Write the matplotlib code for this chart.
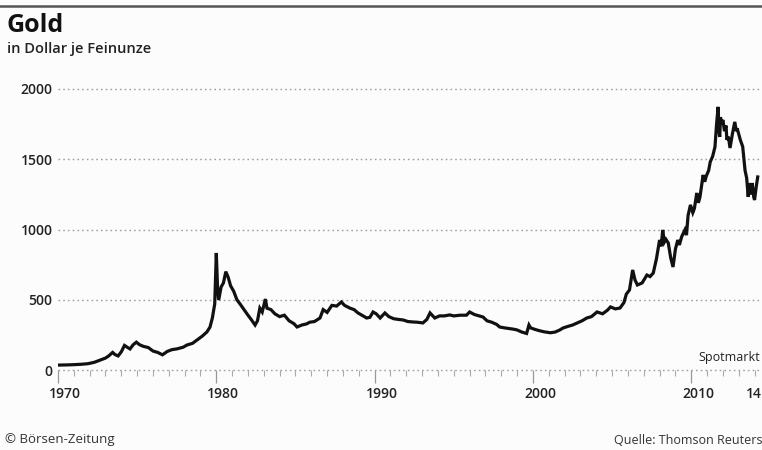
import numpy as np
import matplotlib.pyplot as plt
from matplotlib.lines import Line2D
from matplotlib.transforms import ScaledTranslation

plt.rcParams['font.family'] = ['Open Sans', 'DejaVu Sans']

# gold spot price
years = [1970.0, 1970.5, 1971.0, 1971.5, 1971.9, 1972.3, 1972.65, 1973.0, 1973.2, 1973.45,
         1973.6, 1973.8, 1974.0, 1974.2, 1974.4, 1974.55, 1974.75, 1974.95, 1975.15, 1975.4,
         1975.7, 1976.0, 1976.3, 1976.6, 1976.9, 1977.2, 1977.5, 1977.9, 1978.15, 1978.5,
         1978.8, 1979.1, 1979.4, 1979.6, 1979.75, 1979.9, 1980.0, 1980.08, 1980.15, 1980.3,
         1980.45, 1980.6, 1980.75, 1980.9, 1981.1, 1981.3, 1981.5, 1981.75, 1982.0, 1982.2,
         1982.45, 1982.6, 1982.75, 1982.9, 1983.1, 1983.2, 1983.45, 1983.7, 1984.0, 1984.3,
         1984.6, 1984.9, 1985.1, 1985.4, 1985.7, 1985.9, 1986.2, 1986.55, 1986.75, 1987.0,
         1987.3, 1987.6, 1987.9, 1988.1, 1988.45, 1988.7, 1988.95, 1989.2, 1989.5, 1989.7,
         1989.9, 1990.1, 1990.35, 1990.65, 1990.9, 1991.2, 1991.5, 1991.8, 1992.1, 1992.4,
         1992.7, 1993.05, 1993.3, 1993.5, 1993.8, 1994.1, 1994.4, 1994.75, 1995.0, 1995.4,
         1995.8, 1996.0, 1996.3, 1996.6, 1996.85, 1997.1, 1997.4, 1997.7, 1997.9, 1998.2,
         1998.5, 1998.8, 1999.0, 1999.3, 1999.6, 1999.75, 1999.85, 2000.1, 2000.4, 2000.7,
         2001.1, 2001.4, 2001.7, 2001.9, 2002.2, 2002.5, 2002.8, 2003.1, 2003.4, 2003.7,
         2004.05, 2004.4, 2004.7, 2004.9, 2005.2, 2005.5, 2005.75, 2005.9, 2006.1, 2006.3,
         2006.45, 2006.6, 2006.9, 2007.2, 2007.4, 2007.6, 2007.8, 2008.0, 2008.1, 2008.2,
         2008.3, 2008.4, 2008.55, 2008.7, 2008.85, 2009.0, 2009.15, 2009.25, 2009.4, 2009.6,
         2009.7, 2009.8, 2009.95, 2010.1, 2010.2, 2010.35, 2010.45, 2010.55, 2010.75, 2010.85,
         2010.95, 2011.1, 2011.2, 2011.35, 2011.5, 2011.6, 2011.7, 2011.75, 2011.8, 2011.85,
         2011.9, 2012.0, 2012.1, 2012.2, 2012.25, 2012.35, 2012.45, 2012.6, 2012.75, 2012.85,
         2012.9, 2013.1, 2013.25, 2013.4, 2013.5, 2013.6, 2013.65, 2013.7, 2013.8, 2013.85,
         2013.95, 2014.0, 2014.1, 2014.2]
price = [35, 36, 38, 41, 45, 55, 70, 85, 100, 125,
         110, 100, 130, 175, 160, 150, 180, 198, 180, 168,
         160, 135, 125, 108, 132, 145, 150, 162, 178, 190,
         215, 240, 270, 305, 370, 470, 833, 580, 498, 590,
         620, 700, 660, 600, 560, 500, 470, 430, 390, 360,
         320, 350, 440, 413, 505, 440, 430, 400, 380, 390,
         350, 330, 306, 320, 328, 340, 345, 370, 430, 410,
         460, 455, 484, 460, 440, 430, 406, 390, 370, 375,
         413, 400, 370, 406, 380, 365, 360, 356, 345, 342,
         340, 335, 360, 406, 370, 385, 385, 392, 385, 390,
         390, 413, 395, 385, 377, 350, 340, 325, 306, 300,
         295, 290, 285, 270, 260, 320, 300, 290, 280, 272,
         265, 270, 285, 299, 310, 320, 335, 350, 370, 380,
         413, 400, 425, 449, 435, 441, 480, 540, 570, 712,
         640, 605, 620, 676, 665, 690, 790, 925, 880, 997,
         910, 930, 904, 800, 733, 860, 925, 890, 950, 997,
         960, 1100, 1175, 1120, 1150, 1260, 1190, 1230, 1388, 1340,
         1380, 1420, 1481, 1520, 1588, 1750, 1873, 1700, 1659, 1800,
         1750, 1780, 1700, 1740, 1638, 1660, 1580, 1680, 1766, 1700,
         1720, 1638, 1590, 1420, 1367, 1232, 1330, 1300, 1250, 1331,
         1230, 1210, 1300, 1374]

yticks = [0, 500, 1000, 1500, 2000]
decades = [1970, 1980, 1990, 2000, 2010]
decade_labels = ['1970', '1980', '1990', '2000', '2010']

fig = plt.figure(figsize=(7.62, 4.5), dpi=100)
fig.patch.set_facecolor('#fcfcfc')
ax = fig.add_axes([58 / 762, 1 - 370 / 450, 1 - 58 / 762, (370 - 89) / 450])
ax.set_facecolor('#fcfcfc')

ax.plot(years, price, color='#111111', lw=2.3, solid_joinstyle='miter')

ax.set_xlim(1970, 2014.47)
ax.set_ylim(0, 2000)
for s in ax.spines.values():
    s.set_visible(False)

ax.set_yticks(yticks)
ax.set_yticklabels([str(v) for v in yticks])
ax.tick_params(axis='y', length=0, pad=4, labelsize=10, labelcolor='#222222')
for v in yticks:
    ax.axhline(v, color='#a0a0a0', lw=1.0, ls=(0, (1.2, 2.2)), zorder=0, clip_on=False)

ax.set_xticks(decades)
ax.set_xticklabels(decade_labels)
ax.set_xticks(np.arange(1971, 2015), minor=True)
ax.tick_params(axis='x', which='major', length=9, width=0.9, color='#999999',
               labelsize=10, labelcolor='#222222', pad=3)
ax.tick_params(axis='x', which='minor', length=4, width=0.8, color='#aaaaaa')
for lbl in ax.get_xticklabels() + ax.get_yticklabels():
    lbl.set_fontweight('semibold')
for lbl in ax.get_xticklabels():
    lbl.set_transform(lbl.get_transform() + ScaledTranslation(0.07, 0, fig.dpi_scale_trans))

ax.annotate('14', xy=(1.0, 0), xycoords='axes fraction', xytext=(-0.5, -12),
            textcoords='offset points', ha='right', va='top',
            fontsize=10, fontweight='semibold', color='#222222')
ax.text(0.997, 0.022, 'Spotmarkt', transform=ax.transAxes, ha='right', va='bottom',
        fontsize=9, color='#222222')

fig.add_artist(Line2D([0.0, 1.0], [1 - 5.5 / 450] * 2, color='#555555', lw=1.8))
fig.text(7 / 762, 1 - 13 / 450, 'Gold', ha='left', va='top', fontsize=18,
         fontweight='bold', color='#111111')
fig.text(7 / 762, 1 - 42 / 450, 'in Dollar je Feinunze', ha='left', va='top',
         fontsize=10.5, fontweight='semibold', color='#222222')
fig.text(5 / 762, 1 - 440 / 450, '© Börsen-Zeitung', ha='left', va='center',
         fontsize=9.5, color='#333333')
fig.text(1.0, 1 - 440 / 450, 'Quelle: Thomson Reuters', ha='right', va='center',
         fontsize=9, color='#333333')

fig.savefig('out.png', dpi=100, facecolor=fig.get_facecolor())
